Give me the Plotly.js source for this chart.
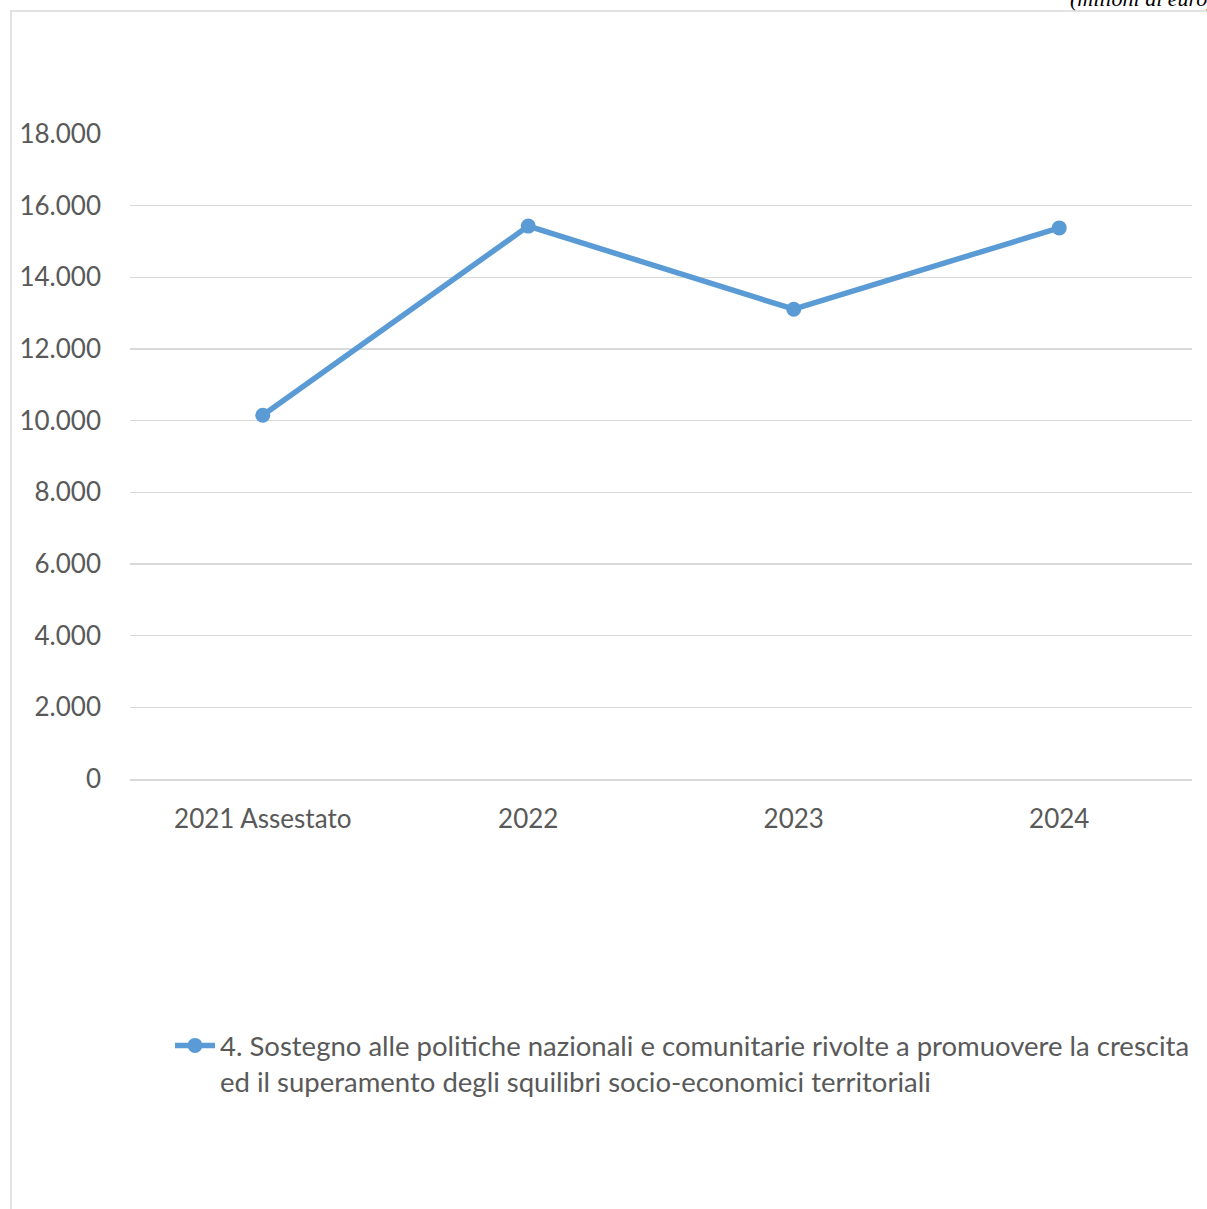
<!DOCTYPE html>
<html>
<head>
<meta charset="utf-8">
<script src="https://cdn.plot.ly/plotly-3.0.1.min.js"></script>
<style>
html,body{margin:0;padding:0;background:#fff;overflow:hidden;}
#chart{width:1207px;height:1209px;}
</style>
</head>
<body>
<div id="chart"></div>
<script>
const categories = ["2021 Assestato", "2022", "2023", "2024"];
const values = [10150, 15430, 13110, 15380];
const seriesName = "4. Sostegno alle politiche nazionali e comunitarie rivolte a promuovere la crescita<br>ed il superamento degli squilibri socio-economici territoriali";
const tickVals = [0, 2000, 4000, 6000, 8000, 10000, 12000, 14000, 16000, 18000];
const tickText = ["0", "2.000", "4.000", "6.000", "8.000", "10.000", "12.000", "14.000", "16.000", "18.000"];
const unitNote = "(milioni di euro)";

const W = 1207, H = 1209;
const mL = 130, mR = W - 1192, mT = 134, mB = H - 779;
const pw = W - mL - mR, ph = H - mT - mB;
const px = v => (v - mL) / pw;
const py = v => (H - mB - v) / ph;

const trace = {
  x: categories,
  y: values,
  name: seriesName,
  type: "scatter",
  mode: "lines+markers",
  line: {color: "#5B9BD5", width: 5.5},
  marker: {color: "#5B9BD5", size: 15},
  showlegend: true
};

const layout = {
  width: W, height: H,
  margin: {l: mL, r: mR, t: mT, b: mB, pad: 0},
  paper_bgcolor: "#ffffff",
  plot_bgcolor: "#ffffff",
  font: {family: "Lato, 'Open Sans', sans-serif", color: "#595959", size: 26},
  xaxis: {
    type: "category",
    range: [-0.5, 3.5],
    showgrid: false,
    showline: true,
    linecolor: "#d9d9d9",
    linewidth: 1.5,
    ticks: "",
    tickfont: {size: 26, color: "#595959"},
    ticklabelstandoff: 16,
    zeroline: false,
    fixedrange: true
  },
  yaxis: {
    range: [0, 18000],
    tickvals: tickVals,
    ticktext: tickText,
    showgrid: true,
    gridcolor: "#d9d9d9",
    gridwidth: 1.5,
    showline: false,
    zeroline: false,
    ticks: "",
    tickfont: {size: 26, color: "#595959"},
    ticklabelstandoff: 28,
    fixedrange: true
  },
  showlegend: true,
  legend: {
    orientation: "h",
    x: px(170), xanchor: "left",
    y: py(1021), yanchor: "top",
    valign: "top",
    font: {size: 27.5, color: "#595959"},
    bgcolor: "rgba(0,0,0,0)",
    itemwidth: 40
  },
  shapes: [
    {type: "rect", xref: "paper", yref: "paper",
     x0: px(11), x1: px(1230), y0: py(1230), y1: py(11),
     line: {color: "#d9d9d9", width: 1.5}, fillcolor: "rgba(0,0,0,0)", layer: "below"}
  ],
  annotations: [
    {xref: "paper", yref: "paper", x: px(1217), y: py(13), xanchor: "right", yanchor: "bottom",
     text: unitNote, showarrow: false,
     font: {family: "'Liberation Serif', serif", size: 22, color: "#000000", style: "italic"}}
  ]
};

Plotly.newPlot("chart", [trace], layout, {displayModeBar: false, staticPlot: true});
</script>
</body>
</html>
